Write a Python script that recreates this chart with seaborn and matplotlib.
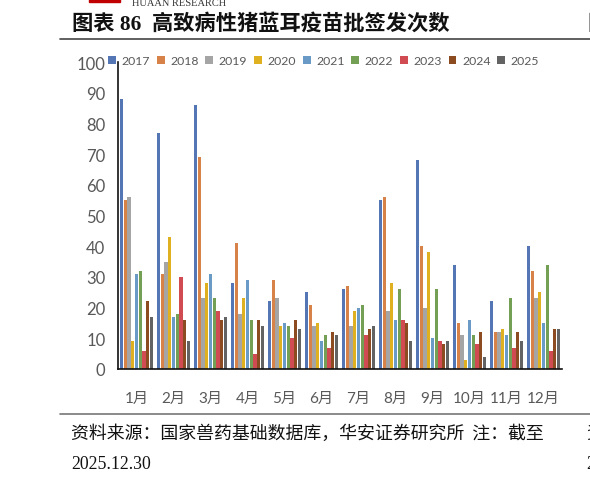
import matplotlib
matplotlib.use('Agg')
import matplotlib.pyplot as plt
import seaborn as sns
import pandas as pd

months = ['1月', '2月', '3月', '4月', '5月', '6月', '7月', '8月', '9月', '10月', '11月', '12月']
years = ['2017', '2018', '2019', '2020', '2021', '2022', '2023', '2024', '2025']

v2017 = [88, 77, 86, 28, 22, 25, 26, 55, 68, 34, 22, 40]
v2018 = [55, 31, 69, 41, 29, 21, 27, 56, 40, 15, 12, 32]
v2019 = [56, 35, 23, 18, 23, 14, 14, 19, 20, 11, 12, 23]
v2020 = [9, 43, 28, 23, 14, 15, 19, 28, 38, 3, 13, 25]
v2021 = [31, 17, 31, 29, 15, 9, 20, 16, 10, 16, 11, 15]
v2022 = [32, 18, 23, 16, 14, 11, 21, 26, 26, 11, 23, 34]
v2023 = [6, 30, 19, 5, 10, 7, 11, 16, 9, 8, 7, 6]
v2024 = [22, 16, 16, 16, 16, 12, 13, 15, 8, 12, 12, 13]
v2025 = [17, 9, 17, 14, 13, 11, 14, 9, 9, 4, 9, 13]

colors = ['#4472C4', '#ED7D31', '#A5A5A5', '#FFC000', '#5B9BD5',
          '#70AD47', '#E8343E', '#9E480E', '#636363']

series = [v2017, v2018, v2019, v2020, v2021, v2022, v2023, v2024, v2025]
rows = []
for y, vals in zip(years, series):
    for m, v in zip(months, vals):
        rows.append({'月份': m, '年份': y, '次数': v})
df = pd.DataFrame(rows)

sns.set_style('white')
plt.rcParams['font.family'] = ['Lato', 'Noto Sans CJK SC', 'DejaVu Sans']

W, H = 590, 485
fig = plt.figure(figsize=(W / 100, H / 100), dpi=100)

def fx(x):
    return x / W

def fy(y):
    return 1 - y / H

ax = fig.add_axes([fx(118), fy(370), fx(562 - 118), (370 - 63) / H])
sns.barplot(data=df, x='月份', y='次数', hue='年份', palette=colors,
            width=0.9, gap=0.12, linewidth=0, ax=ax, legend=True)

ax.set_ylim(0, 100)
ax.set_yticks(range(0, 101, 10))
ax.set_xlim(-0.5, 11.5)
ax.set_xlabel('')
ax.set_ylabel('')
for s in ['top', 'right']:
    ax.spines[s].set_visible(False)
for s in ['left', 'bottom']:
    ax.spines[s].set_color('#111111')
    ax.spines[s].set_linewidth(1.2)
ax.tick_params(axis='both', length=0, colors='#595959')
ax.tick_params(axis='y', labelsize=12, pad=9)
ax.tick_params(axis='x', labelsize=11, pad=16)
for lab in ax.get_xticklabels():
    lab.set_family(['Lato', 'Noto Sans CJK SC'])

handles, labels = ax.get_legend_handles_labels()
ax.legend(handles, labels, ncol=9, loc='center left',
          bbox_to_anchor=(fx(108), fy(61.5)), bbox_transform=fig.transFigure,
          frameon=False, fontsize=8.8, handlelength=0.65, handleheight=0.65,
          handletextpad=0.45, columnspacing=0.55, labelcolor='#595959',
          borderaxespad=0, borderpad=0)

# header
fig.patches.append(plt.Rectangle((fx(89), fy(3)), fx(31), 3 / H,
                                 transform=fig.transFigure, color='#C00000'))
fig.text(fx(132), fy(3), 'HUAAN RESEARCH', fontsize=7.5, family='Liberation Serif',
         color='#333333', va='center')
fig.text(fx(72), fy(24), '图表 86  高致病性猪蓝耳疫苗批签发次数', fontsize=15.3,
         fontweight='bold', family=['Liberation Serif', 'Noto Sans CJK SC'],
         va='center', color='#111111')
fig.text(fx(587), fy(24), '图', fontsize=15.3, fontweight='bold',
         family=['Noto Sans CJK SC'], va='center', color='#111111')
fig.add_artist(plt.Line2D([fx(60), 1], [fy(40), fy(40)], color='#444444', lw=1.2))
fig.add_artist(plt.Line2D([fx(60), 1], [fy(415), fy(415)], color='#777777', lw=1.2))

# source
fig.text(fx(71), fy(434), '资料来源：国家兽药基础数据库，华安证券研究所  注：截至',
         fontsize=12.9, family=['Noto Sans CJK SC'], va='center', color='#111111')
fig.text(fx(71), fy(465), '2025.12.30', fontsize=12.8, family='Liberation Serif',
         va='center', color='#111111')
fig.text(fx(586), fy(434), '资', fontsize=12.9, family=['Noto Sans CJK SC'],
         va='center', color='#111111')
fig.text(fx(586), fy(465), '2', fontsize=12.8, family='Liberation Serif',
         va='center', color='#111111')

fig.savefig('out.png', dpi=100)
